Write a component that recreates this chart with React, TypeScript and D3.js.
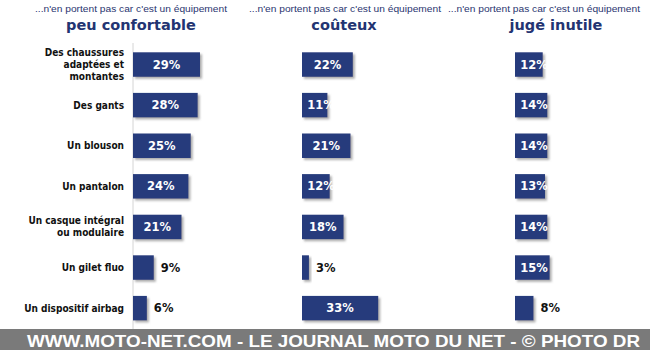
import React from "react";
import * as d3 from "d3";

const categories = [
  "Des chaussures\nadaptées et\nmontantes",
  "Des gants",
  "Un blouson",
  "Un pantalon",
  "Un casque intégral\nou modulaire",
  "Un gilet fluo",
  "Un dispositif airbag",
];
const peuConfortable = [29, 28, 25, 24, 21, 9, 6];
const couteux = [22, 11, 21, 12, 18, 3, 33];
const jugeInutile = [12, 14, 14, 13, 14, 15, 8];
const columnTitles = ["peu confortable", "coûteux", "jugé inutile"];
const headerText = "...n'en portent pas car c'est un équipement";
const footerText = "WWW.MOTO-NET.COM - LE JOURNAL MOTO DU NET - © PHOTO DR";

const W = 650;
const H = 350;
const BAR = "#263a7c";
const TITLE = "#233472";

export default function App() {
  const series = [peuConfortable, couteux, jugeInutile];
  const colX = [133, 302, 515];
  const titleX = [131, 344, 556];
  const headX = [35, 249, 448];
  const x = d3.scaleLinear().domain([0, 100]).range([0, 231]);
  const y = d3
    .scaleBand<string>()
    .domain(categories)
    .range([52.3, 320.4])
    .paddingInner(0.397)
    .paddingOuter(0);
  const bw = y.bandwidth();

  return (
    <svg
      width={W}
      height={H}
      style={{ position: "absolute", left: 0, top: 0, background: "#fff" }}
    >
      <defs>
        <filter id="sh" x="-20%" y="-20%" width="150%" height="160%">
          <feDropShadow dx="2" dy="2" stdDeviation="1" floodColor="#777" floodOpacity="0.6" />
        </filter>
      </defs>
      <rect width={W} height={H} fill="#fff" />
      {/* headers */}
      {columnTitles.map((t, i) => (
        <g key={t}>
          <text
            x={headX[i]}
            y={12}
            fontFamily="'Liberation Sans', Arial, sans-serif"
            fontSize={9.5}
            fill="#2a3570"
            textLength={192}
            lengthAdjust="spacingAndGlyphs"
          >
            {headerText}
          </text>
          <text
            x={titleX[i]}
            y={30}
            textAnchor="middle"
            fontFamily="'DejaVu Sans', Verdana, sans-serif"
            fontWeight="bold"
            fontSize={14.5}
            fill={TITLE}
          >
            {t}
          </text>
        </g>
      ))}
      {/* axis line */}
      <line x1={colX[0]} x2={colX[0]} y1={43} y2={329} stroke="#d4d4d4" strokeWidth={1} />
      {/* category labels */}
      {categories.map((c) => {
        const lines = c.split("\n");
        const cy = (y(c) as number) + bw / 2;
        const lh = 12;
        return (
          <text
            key={c}
            x={124}
            textAnchor="end"
            fontFamily="'DejaVu Sans Condensed', 'Liberation Sans', sans-serif"
            fontWeight="bold"
            fontSize={10}
            fill="#111"
          >
            {lines.map((l, k) => (
              <tspan key={k} x={124} y={cy + (k - (lines.length - 1) / 2) * lh + 3.5}>
                {l}
              </tspan>
            ))}
          </text>
        );
      })}
      {/* bars */}
      {series.map((vals, si) => (
        <g key={si}>
          {vals.map((v, i) => {
            const c = categories[i];
            const y0 = y(c) as number;
            const w = x(v);
            const x0 = colX[si];
            const inside = v >= 10;
            const lx = inside ? Math.max(x0 + w / 2, x0 + 19) : x0 + w + 7;
            return (
              <g key={c}>
                <rect x={x0} y={y0} width={w} height={bw} fill={BAR} filter="url(#sh)" />
                <text
                  x={lx}
                  y={y0 + bw / 2 + 4}
                  textAnchor={inside ? "middle" : "start"}
                  fontFamily="'DejaVu Sans', Verdana, sans-serif"
                  fontWeight="bold"
                  fontSize={11.5}
                  fill={inside ? "#fff" : "#111"}
                >
                  {v}%
                </text>
              </g>
            );
          })}
        </g>
      ))}
      {/* footer */}
      <rect x={0} y={329} width={W} height={21} fill="#7a7a7a" />
      <text
        x={27}
        y={346.5}
        fontFamily="'Liberation Sans', Arial, sans-serif"
        fontWeight="bold"
        fontSize={17}
        fill="#fff"
        textLength={613}
        lengthAdjust="spacingAndGlyphs"
      >
        {footerText}
      </text>
    </svg>
  );
}
